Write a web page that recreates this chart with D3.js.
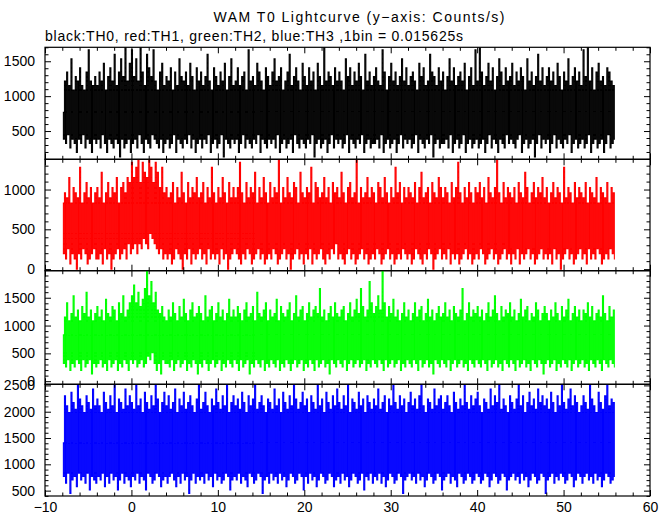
<!DOCTYPE html>
<html><head><meta charset="utf-8">
<script src="https://cdn.jsdelivr.net/npm/d3@7"></script>
<style>
body{margin:0;background:#fff}
svg{display:block}
text{font-family:"Liberation Sans",Arial,Helvetica,sans-serif}
</style>
</head><body>
<svg id="chart" width="672" height="515"></svg>
<script>
// ---- text ----
const titleText = "WAM T0 Lightcurve (y\u2212axis: Counts/s)";
const subtitleText = "black:TH0, red:TH1, green:TH2, blue:TH3 ,1bin = 0.015625s";

// ---- time axis ----
const binSize = 0.015625;          // s per original bin (counts -> counts/s)
const tStart = -8;                 // first sample time (s)
const tStep = 0.125;               // spacing of the samples listed below (s)
const xRange = [-10, 60];
const xTickLabels = [-10, 0, 10, 20, 30, 40, 50, 60];

// ---- y ranges and tick labels per panel (counts/s) ----
const th0Range = [95, 1700],   th0Ticks = [500, 1000, 1500];
const th1Range = [-20, 1380],  th1Ticks = [0, 500, 1000];
const th2Range = [-56, 1986],  th2Ticks = [0, 500, 1000, 1500];
const th3Range = [398, 2521],  th3Ticks = [500, 1000, 1500, 2000, 2500];

// ---- series: counts per bin, sampled every 0.125 s (alternating local max / min) ----
const th0 = [
12,6,19,5,21,7,18,4,24,6,17,5,20,3,19,6,22,5,18,7,17,4,21,6,26,5,19,3,18,6,20,5,
18,6,21,4,19,7,23,5,17,3,20,6,22,5,19,4,25,6,18,5,21,2,24,6,20,4,27,5,19,6,23,3,
26,5,20,6,24,4,19,7,27,5,21,3,18,6,25,5,22,4,20,7,26,6,19,5,17,4,21,6,23,3,18,5,
20,6,19,4,22,5,17,7,21,3,18,6,24,5,20,4,19,6,21,5,18,7,23,4,20,6,17,3,22,5,19,6,
21,4,18,6,20,5,25,7,19,3,17,5,22,6,20,4,18,5,21,7,19,2,23,6,17,5,20,4,24,6,18,5,
19,6,22,3,18,5,20,7,21,4,17,6,26,5,19,4,20,6,18,5,23,7,21,3,19,6,17,5,22,4,20,6,
18,5,21,6,24,4,19,7,20,3,22,5,17,6,19,4,21,5,25,6,18,3,20,7,22,5,19,4,17,6,23,5,
20,4,18,6,22,5,19,7,21,2,17,5,23,6,20,4,18,5,27,6,19,3,21,5,20,7,18,4,22,6,19,5,
21,6,19,4,17,5,24,7,20,3,22,6,18,5,21,4,19,6,23,5,20,7,17,3,25,5,19,6,21,4,18,5,
20,5,22,6,19,4,18,7,26,3,21,5,17,6,20,4,23,5,19,6,21,3,18,5,20,7,24,4,19,6,22,5,
18,6,20,4,21,5,19,7,17,3,23,6,20,5,22,4,18,6,19,5,25,7,21,2,20,5,18,6,22,4,19,5,
21,5,17,6,20,4,24,7,19,3,22,5,18,6,20,4,21,5,19,7,23,3,17,5,20,6,22,4,18,5,26,6,
19,4,27,5,21,6,18,3,20,5,23,7,19,4,22,6,17,5,20,3,24,6,21,5,18,4,22,7,19,5,20,6,
23,5,18,4,21,6,19,7,22,3,20,5,17,6,24,4,19,5,21,6,18,2,20,5,25,7,19,4,22,6,18,5,
20,6,22,3,19,5,21,7,18,4,23,6,20,5,17,4,21,6,19,5,24,7,18,3,20,5,22,6,19,4,21,5,
18,6,26,4,20,5,27,7,19,3,22,5,17,6,21,4,23,5,19,6,20,3,18,5,22,7,21,4,19,5,18,6
];
const th1 = [
13,3,15,2,14,4,18,1,13,3,16,2,15,0,14,3,20,2,13,4,15,3,17,1,14,2,16,3,13,4,15,2,
16,2,14,3,19,1,13,4,15,2,17,3,14,0,16,2,15,3,18,4,13,2,16,3,17,4,15,2,18,5,17,3,
21,4,18,5,20,3,22,5,17,4,21,6,19,5,18,4,22,7,20,6,17,5,21,4,19,3,16,4,20,2,15,3,
16,2,14,3,15,1,17,2,13,4,16,3,14,2,19,0,15,3,13,2,17,4,14,1,16,3,15,2,18,3,14,4,
15,2,17,3,13,1,16,4,14,2,20,3,15,2,13,3,16,1,14,4,18,2,15,3,13,0,17,2,14,3,16,4,
14,3,16,2,21,1,15,3,13,2,17,4,14,3,16,1,15,2,19,3,13,4,16,2,14,3,18,1,15,2,13,3,
17,2,14,4,16,3,15,1,22,2,13,3,16,4,14,2,18,3,15,0,14,2,17,3,16,4,13,2,19,3,15,1,
14,3,16,2,15,4,20,1,13,3,17,2,16,3,14,4,15,2,18,1,14,3,16,2,13,4,17,3,15,5,16,2,
14,3,19,2,15,1,13,3,16,4,17,2,14,3,15,1,22,2,13,3,16,4,14,2,15,3,18,1,14,2,16,3,
15,2,13,4,17,3,16,1,14,2,18,3,15,4,13,2,16,3,14,1,20,2,15,3,17,2,13,4,16,3,14,2,
16,3,15,1,14,2,17,4,13,3,16,2,19,1,14,3,15,2,16,4,13,3,17,0,15,2,14,3,18,4,16,2,
14,3,16,2,15,4,13,1,17,3,14,2,16,3,21,1,15,2,13,3,16,4,14,2,17,3,15,1,13,2,16,3,
15,2,17,4,14,3,16,1,13,2,18,3,15,4,14,2,16,3,22,1,15,2,13,3,17,4,14,2,16,3,15,1,
14,3,16,2,13,4,17,1,15,3,14,2,19,3,16,4,13,2,15,3,17,1,14,2,16,3,15,4,18,2,14,3,
16,2,13,3,15,1,17,4,14,2,16,3,15,0,13,2,20,3,14,4,16,2,15,3,13,1,17,2,14,3,16,4,
15,2,14,3,17,1,13,4,16,2,15,3,14,2,18,4,13,3,16,1,15,2,14,3,17,2,13,4,16,3,15,2
];
const th2 = [
13,5,18,4,22,6,17,3,19,5,24,4,18,6,20,5,17,3,21,6,19,4,25,5,18,6,20,2,17,5,19,4,
21,5,18,6,20,4,17,5,23,3,19,6,18,4,21,5,20,6,17,3,22,5,19,4,24,6,18,5,20,3,22,6,
24,5,27,6,22,4,25,5,21,6,23,4,26,5,31,7,24,6,28,8,22,5,25,3,20,5,19,2,21,6,18,5,
17,5,20,4,18,6,22,3,19,5,17,6,21,4,18,5,23,6,19,3,17,5,20,4,22,6,18,5,19,2,21,5,
19,4,17,6,24,5,18,3,20,5,21,6,17,4,19,5,22,6,18,3,20,5,17,4,19,6,23,5,18,4,20,6,
18,5,21,3,19,6,17,4,20,5,22,6,18,2,19,5,21,4,17,6,25,5,19,4,18,6,20,3,22,5,17,4,
20,6,18,5,19,4,23,6,17,3,21,5,19,4,18,6,20,5,22,3,17,5,19,6,24,4,18,5,20,6,21,3,
17,5,19,4,22,6,18,5,20,3,21,6,19,4,26,5,18,6,20,4,17,5,19,2,21,6,18,5,22,4,19,6,
18,5,20,4,21,6,17,3,19,5,22,6,18,4,20,5,23,6,19,4,26,5,21,6,18,3,20,5,28,4,22,6,
19,5,21,4,24,6,20,5,31,3,22,6,18,4,21,5,19,6,23,4,18,5,20,6,17,3,19,5,22,4,18,6,
20,5,17,4,19,6,22,5,18,3,20,6,21,4,17,5,19,6,23,4,18,5,20,2,17,6,19,5,21,4,18,6,
19,5,22,4,18,6,20,3,17,5,21,6,19,4,18,5,20,6,26,4,17,5,19,3,22,6,18,5,20,4,19,6,
21,5,18,4,20,6,17,5,19,3,22,6,18,4,20,5,24,6,19,4,17,5,21,3,18,6,20,5,19,4,22,6,
18,5,20,3,17,6,19,4,23,5,18,6,20,4,21,5,17,3,19,6,18,5,22,4,20,6,17,5,19,2,21,5,
19,6,17,4,20,5,18,6,22,3,19,5,17,4,21,6,18,5,20,4,23,6,17,3,19,5,21,6,18,4,20,5,
17,6,20,4,19,5,22,3,18,6,21,5,17,4,19,6,20,5,18,3,24,6,19,5,17,4,21,6,18,5,20,4
];
const th3 = [
22,12,36,10,33,13,31,7,37,11,34,12,32,9,39,13,35,11,33,12,31,10,36,13,34,8,32,12,38,11,33,10,
35,12,33,11,31,13,37,9,34,12,32,10,36,13,33,11,40,12,31,8,35,11,34,13,32,10,38,12,33,11,36,9,
34,12,32,11,39,13,33,10,35,12,31,11,37,8,34,13,32,12,36,10,33,11,40,13,35,12,31,9,34,11,37,12,
33,10,36,12,32,13,34,11,38,9,31,12,35,10,33,13,37,11,32,12,34,7,36,11,33,13,31,10,35,12,39,11,
32,12,34,10,37,13,33,11,31,12,35,9,33,13,38,11,34,12,32,10,36,11,33,13,40,12,31,8,34,11,36,12,
33,11,35,13,32,10,37,12,34,11,31,9,36,13,33,12,35,10,39,11,32,13,34,12,36,7,33,11,31,12,35,10,
34,13,32,11,38,12,33,10,35,13,31,11,37,12,34,9,32,11,36,13,33,12,40,10,35,11,32,13,34,12,37,8,
33,12,35,10,31,13,36,11,34,12,32,9,39,11,33,13,35,12,31,10,37,11,34,13,32,12,36,9,33,11,38,12,
34,10,32,13,36,11,33,12,40,9,31,11,35,13,34,12,32,10,37,11,33,13,35,8,31,12,36,11,34,13,32,10,
35,12,33,11,38,13,32,10,34,12,36,9,31,11,35,13,33,12,39,10,34,11,32,13,36,12,33,7,35,11,31,12,
34,13,37,11,33,12,35,10,32,13,36,11,40,12,33,9,31,11,35,13,34,12,32,10,38,11,33,13,35,12,36,8,
32,11,34,12,36,13,33,10,31,12,37,11,34,9,32,13,35,12,33,10,39,11,34,13,32,12,36,10,33,11,35,13,
37,12,33,10,31,11,35,13,34,12,32,9,38,11,33,13,36,12,34,10,40,11,32,13,35,12,33,8,31,11,36,12,
34,13,32,11,35,12,39,10,33,13,36,11,31,12,34,9,37,11,33,13,35,12,32,10,38,11,34,13,36,12,33,7,
35,11,32,12,37,13,34,10,31,12,36,11,33,13,40,12,34,10,32,11,35,13,38,12,33,9,36,11,34,13,31,12,
33,10,36,12,34,13,32,11,39,12,35,10,33,13,31,11,37,12,34,9,32,11,36,13,40,12,33,10,35,11,34,12
];

// ---- drawing ----
const svg = d3.select("#chart");
const W = 672, H = 515;
svg.append("rect").attr("width", W).attr("height", H).attr("fill", "#fff");

const plotLeft = 45, plotRight = 650;
const panelEdges = [47.3, 159.3, 270.7, 384.3, 496];
const x = d3.scaleLinear().domain(xRange).range([plotLeft, plotRight]);

const panels = [
  {data: th0, color: "#000000", range: th0Range, ticks: th0Ticks},
  {data: th1, color: "#ff0000", range: th1Range, ticks: th1Ticks},
  {data: th2, color: "#00ff00", range: th2Range, ticks: th2Ticks},
  {data: th3, color: "#0000ff", range: th3Range, ticks: th3Ticks}
];

const xMajor = d3.range(xRange[0], xRange[1] + 0.001, 10);
const xMinor = d3.range(xRange[0], xRange[1] + 0.001, 2).filter(v => v % 10 !== 0);
const majorLen = 6, minorLen = 3.5;

function tickGroup(sel, axis) {
  sel.call(axis);
  sel.select(".domain").remove();
  sel.selectAll(".tick line").attr("stroke", "#000").attr("stroke-width", 1);
  sel.selectAll(".tick text").remove();
}

panels.forEach((p, i) => {
  const top = panelEdges[i], bottom = panelEdges[i + 1];
  const y = d3.scaleLinear().domain(p.range).range([bottom, top]);
  const clipId = "clip" + i;
  svg.append("clipPath").attr("id", clipId)
    .append("rect").attr("x", plotLeft).attr("y", top)
    .attr("width", plotRight - plotLeft).attr("height", bottom - top);

  const pts = p.data.map((c, j) => [tStart + (j + 0.5) * tStep, c / binSize]);
  const line = d3.line().x(d => x(d[0])).y(d => y(d[1])).curve(d3.curveStep);
  svg.append("path")
    .attr("clip-path", `url(#${clipId})`)
    .attr("d", line(pts))
    .attr("fill", "none")
    .attr("stroke", p.color)
    .attr("stroke-width", 1.05);

  // frame
  svg.append("rect").attr("x", plotLeft).attr("y", top)
    .attr("width", plotRight - plotLeft).attr("height", bottom - top)
    .attr("fill", "none").attr("stroke", "#000").attr("stroke-width", 1.2);

  // y ticks (major every 500, minor every 100)
  const lo = Math.ceil(p.range[0] / 100) * 100, hi = Math.floor(p.range[1] / 100) * 100;
  const yMinor = d3.range(lo, hi + 1, 100).filter(v => v % 500 !== 0);
  const yMajor = d3.range(lo, hi + 1, 100).filter(v => v % 500 === 0);

  [[xMajor, majorLen], [xMinor, minorLen]].forEach(([vals, len]) => {
    tickGroup(svg.append("g").attr("transform", `translate(0,${top})`),
      d3.axisBottom(x).tickValues(vals).tickSize(len).tickFormat(""));
    tickGroup(svg.append("g").attr("transform", `translate(0,${bottom})`),
      d3.axisTop(x).tickValues(vals).tickSize(len).tickFormat(""));
  });
  [[yMajor, majorLen], [yMinor, minorLen]].forEach(([vals, len]) => {
    tickGroup(svg.append("g").attr("transform", `translate(${plotLeft},0)`),
      d3.axisRight(y).tickValues(vals).tickSize(len).tickFormat(""));
    tickGroup(svg.append("g").attr("transform", `translate(${plotRight},0)`),
      d3.axisLeft(y).tickValues(vals).tickSize(len).tickFormat(""));
  });

  // y labels
  const gl = svg.append("g").attr("transform", `translate(${plotLeft},0)`)
    .call(d3.axisLeft(y).tickValues(p.ticks).tickSize(0).tickPadding(10).tickFormat(d3.format("d")));
  gl.select(".domain").remove();
  gl.selectAll("text").attr("font-size", 14).attr("fill", "#000")
    .attr("font-family", '"Liberation Sans", Arial, sans-serif');
});

// x labels
const gx = svg.append("g").attr("transform", `translate(0,${panelEdges[4]})`)
  .call(d3.axisBottom(x).tickValues(xTickLabels).tickSize(0).tickPadding(6));
gx.select(".domain").remove();
gx.selectAll("text").attr("font-size", 14).attr("fill", "#000")
  .attr("font-family", '"Liberation Sans", Arial, sans-serif');

// titles
svg.append("text").attr("x", 359).attr("y", 22).attr("text-anchor", "middle")
  .attr("font-size", 14).attr("textLength", 291).text(titleText);
svg.append("text").attr("x", 45).attr("y", 41)
  .attr("font-size", 14).attr("textLength", 418).text(subtitleText);
</script>
</body></html>
